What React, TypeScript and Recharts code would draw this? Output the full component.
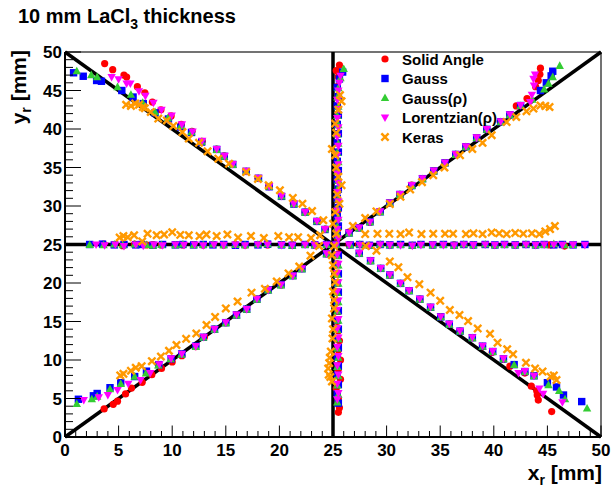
import React from 'react';
import { ScatterChart, Scatter, XAxis, YAxis, ReferenceLine, Legend } from 'recharts';

type P = [number, number];

// ---------- data (x_r, y_r in mm) ----------
const solidAngle: P[] = [
  // upper-left arm
  [3.7,48.5],[4.45,47.7],[5.5,47.0],[5.75,46.75],[6.75,45.5],[7.45,44.7],[8.15,43.5],[8.95,42.5],[9.9,41.7],[10.85,40.6],[11.85,39.7],[12.8,38.4],[14.15,37.4],[14.85,36.5],[15.6,35.4],[16.9,34.5],[18.0,33.6],[19.0,32.5],[20.2,31.3],[21.3,30.3],[22.4,29.2],[23.5,28.0],[24.3,27.0],
  // lower-left arm
  [3.65,3.65],[4.5,4.25],[4.9,4.65],[5.65,5.6],[6.2,6.35],[7.2,7.1],[8.1,8.1],[9.0,8.9],[10.0,9.75],[10.9,10.55],[12.2,11.75],[13.0,12.95],[13.9,14.0],[15.0,14.85],[16.0,15.85],[16.95,16.6],[17.9,17.9],[18.95,19.1],[20.15,19.75],[21.25,20.95],[22.1,21.85],[24.4,23.8],
  // upper-right arm
  [26.5,26.6],[27.45,27.2],[28.45,27.9],[29.4,29.25],[30.3,30.4],[31.25,31.5],[32.35,32.7],[33.35,33.55],[34.4,34.55],[35.45,35.6],[36.45,36.7],[37.4,37.7],[38.4,38.8],[39.35,39.95],[40.6,40.95],[41.5,41.85],[42.1,43.0],[43.1,43.95],[43.9,45.5],[44.15,46.3],[44.3,47.1],[44.35,47.9],
  // lower-right arm
  [27.45,23.85],[28.5,22.9],[29.45,21.9],[30.3,21.0],[31.3,19.95],[32.1,19.0],[33.1,17.9],[34.1,16.85],[35.05,15.6],[35.85,14.65],[36.85,13.75],[38.0,12.9],[38.95,11.75],[39.85,11.0],[40.9,10.1],[41.5,9.2],[42.9,8.3],[43.5,6.6],[44.0,6.0],[44.05,5.45],[44.15,4.8],[45.4,3.3],
  // horizontal scan
  [3.6,25.05],[4.6,25.0],[5.4,24.85],[6.5,25.05],[7.6,24.95],[8.2,25.0],[9.0,24.95],[10.3,25.0],[11.0,24.95],[12.0,25.0],[12.9,24.95],[13.8,25.0],[14.8,24.95],[15.9,25.0],[16.8,24.9],[18.0,25.0],[18.9,24.95],[20.2,25.0],[21.2,24.95],[22.4,25.0],[23.3,24.95],[24.4,25.0],[25.3,25.0],[26.5,24.95],[27.4,25.0],[28.4,24.9],[29.4,25.0],[30.3,24.95],[31.3,25.0],[32.4,24.9],[33.2,25.0],[34.3,24.95],[35.3,25.0],[36.3,24.95],[37.2,25.0],[38.1,24.95],[39.2,25.0],[40.1,24.9],[41.0,25.0],[42.0,24.95],[43.0,25.0],[43.9,24.95],[44.7,25.0],[45.2,24.95],[46.6,24.8],
  // vertical scan
  [25.6,48.3],[25.3,47.6],[25.5,46.8],[25.4,45.5],[25.5,44.3],[25.4,43.0],[25.5,41.8],[25.4,40.7],[25.5,39.4],[25.4,38.2],[25.5,37.0],[25.4,35.7],[25.5,34.5],[25.4,33.3],[25.5,32.0],[25.4,30.8],[25.5,29.5],[25.4,28.3],[25.5,27.1],[25.4,25.8],[25.5,23.8],[25.4,22.5],[25.5,21.3],[25.4,20.0],[25.5,18.8],[25.4,17.5],[25.5,16.3],[25.4,15.0],[25.5,13.8],[25.6,12.5],[25.5,11.3],[25.7,10.0],[25.5,8.8],[25.7,7.5],[25.3,6.3],[25.5,5.0],[25.5,4.4],[25.6,3.8],[25.5,3.2],
];

const gauss: P[] = [
  [0.8,47.3],[1.7,46.85],[2.95,46.3],[3.4,46.2],[5.3,45.0],[6.35,44.15],[7.3,43.3],[8.4,42.1],[9.65,41.3],[10.8,40.25],[11.8,39.55],[12.75,38.3],[14.15,37.35],[14.85,36.45],[15.65,35.4],[16.9,34.5],[18.05,33.6],[19.05,32.5],[20.2,31.25],[21.35,30.25],[22.4,29.2],[23.5,28.0],[24.25,26.95],
  [1.25,4.9],[2.65,5.35],[3.0,5.65],[4.2,6.4],[5.2,7.05],[6.5,7.85],[7.6,8.55],[8.75,9.4],[9.9,10.15],[10.9,10.8],[12.2,11.8],[12.9,12.95],[13.95,14.0],[15.0,14.85],[16.0,15.85],[16.95,16.6],[17.9,17.9],[18.95,19.1],[20.15,19.8],[21.25,20.95],[22.1,21.85],[24.4,23.8],
  [26.5,26.5],[27.45,27.15],[28.45,27.95],[29.4,29.25],[30.3,30.4],[31.25,31.5],[32.35,32.65],[33.35,33.55],[34.4,34.55],[35.45,35.6],[36.45,36.7],[37.4,37.7],[38.4,38.85],[39.35,39.95],[40.65,40.95],[41.5,41.85],[42.5,43.05],[44.35,45.0],[44.9,46.0],[45.35,46.9],[45.5,47.5],
  [27.45,23.85],[28.5,22.9],[29.45,21.9],[30.3,21.05],[31.3,19.95],[32.1,19.0],[33.1,17.9],[34.1,16.85],[35.05,15.6],[35.85,14.65],[36.85,13.75],[38.0,12.9],[38.95,11.8],[39.9,11.1],[40.9,10.15],[41.9,9.4],[42.9,8.5],[43.75,7.95],[45.0,7.05],[45.85,6.5],[46.5,5.45],[48.2,4.6],
  [2.3,25.0],[3.5,25.05],[4.6,24.95],[5.5,25.0],[6.6,24.95],[7.1,25.0],[8.2,24.9],[9.1,25.0],[10.3,24.95],[11.0,25.0],[12.0,24.95],[12.9,25.0],[13.8,24.95],[14.8,25.0],[15.9,24.9],[16.8,25.0],[18.0,24.95],[18.9,25.05],[20.2,24.95],[21.2,24.9],[22.4,25.0],[23.3,24.95],[24.4,25.0],[25.3,25.0],[26.6,24.95],[27.5,25.0],[28.4,24.9],[29.4,25.0],[30.3,24.95],[31.3,25.0],[32.4,24.9],[33.2,25.0],[34.3,24.95],[35.3,25.0],[36.3,24.9],[37.2,25.0],[38.1,24.95],[39.2,25.0],[40.1,24.95],[41.0,25.0],[42.0,24.95],[43.0,25.0],[43.9,24.95],[44.7,25.0],[45.6,24.95],[46.4,25.0],[47.4,24.95],[48.5,25.0],
  [25.9,47.4],[25.6,46.5],[25.4,45.4],[25.5,44.2],[25.4,43.0],[25.5,41.8],[25.4,40.6],[25.5,39.4],[25.4,38.2],[25.5,37.0],[25.4,35.8],[25.5,34.6],[25.4,33.4],[25.5,32.2],[25.4,31.0],[25.5,29.8],[25.4,28.6],[25.5,27.4],[25.4,26.2],[25.5,23.6],[25.4,22.4],[25.5,21.2],[25.4,20.0],[25.5,18.8],[25.4,17.6],[25.5,16.4],[25.4,15.2],[25.5,14.0],[25.4,12.8],[25.5,11.6],[25.4,10.4],[25.5,9.2],[25.4,8.0],[25.5,6.8],[25.4,5.6],[25.5,4.4],
];

const gaussRho: P[] = [
  [1.1,47.5],[2.45,47.0],[3.0,46.75],[4.9,45.45],[6.15,44.45],[7.25,43.4],[8.4,42.2],[9.6,41.4],[10.8,40.4],[11.8,39.6],[12.75,38.35],[14.15,37.3],[14.85,36.4],[15.65,35.35],[16.9,34.45],[18.05,33.55],[19.05,32.5],[20.2,31.25],[21.35,30.25],[22.4,29.15],[23.5,28.0],[24.25,26.95],
  [1.1,4.3],[2.5,4.9],[3.0,5.25],[4.2,6.2],[5.2,6.9],[6.5,7.85],[7.55,8.25],[8.7,9.3],[9.85,10.1],[10.85,10.7],[12.2,11.7],[12.9,12.9],[13.95,13.95],[15.0,14.8],[16.0,15.8],[16.95,16.55],[17.9,17.85],[18.95,19.05],[20.15,19.7],[21.25,20.9],[22.1,21.8],[24.4,23.75],
  [26.5,26.45],[27.45,27.1],[28.45,27.9],[29.4,29.2],[30.3,30.35],[31.25,31.45],[32.35,32.6],[33.35,33.5],[34.4,34.5],[35.45,35.55],[36.45,36.65],[37.4,37.65],[38.4,38.8],[39.35,39.9],[40.65,40.9],[41.5,41.8],[42.5,43.0],[43.6,43.8],[44.7,45.15],[45.1,45.9],[45.5,46.75],[46.15,48.2],
  [27.45,23.8],[28.5,22.85],[29.45,21.85],[30.3,21.0],[31.3,19.9],[32.1,18.95],[33.1,17.85],[34.1,16.8],[35.05,15.55],[35.85,14.6],[36.85,13.7],[38.0,12.85],[38.95,11.75],[39.9,11.05],[40.9,10.1],[41.9,9.35],[42.9,8.45],[43.75,7.9],[45.1,6.75],[46.1,6.0],[46.65,4.9],[48.7,3.7],
  [2.3,24.95],[3.6,24.9],[4.6,25.0],[5.4,24.9],[6.5,25.0],[7.6,24.95],[8.2,24.85],[9.0,24.95],[10.3,24.9],[11.0,25.0],[12.0,24.9],[12.9,24.95],[13.8,25.0],[14.8,24.9],[15.9,24.95],[16.8,24.9],[18.0,25.0],[18.9,25.05],[20.2,24.95],[21.2,24.85],[22.4,24.95],[23.3,24.9],[24.4,24.95],[25.3,24.95],[26.6,24.9],[27.5,25.0],[28.4,24.85],[29.4,25.0],[30.3,24.9],[31.3,24.95],[32.4,24.85],[33.2,24.95],[34.3,24.9],[35.3,24.95],[36.3,24.85],[37.2,25.0],[38.1,24.9],[39.2,25.0],[40.1,24.9],[41.0,24.95],[42.0,24.9],[43.0,25.0],[43.9,24.9],[44.7,24.95],[45.6,25.05],[46.6,24.9],[47.4,24.95],
  [26.0,47.8],[25.7,46.6],[25.5,45.3],[25.4,44.1],[25.5,42.9],[25.4,41.7],[25.5,40.5],[25.4,39.3],[25.5,38.1],[25.4,36.9],[25.5,35.7],[25.4,34.5],[25.5,33.3],[25.4,32.1],[25.5,30.9],[25.4,29.7],[25.5,28.5],[25.4,27.3],[25.5,26.1],[25.4,23.5],[25.5,22.3],[25.4,21.1],[25.5,19.9],[25.4,18.7],[25.5,17.5],[25.4,16.3],[25.5,15.1],[25.4,13.9],[25.5,12.7],[25.4,11.5],[25.5,10.3],[25.4,9.1],[25.5,7.9],[25.4,6.7],[25.5,5.5],[25.4,4.5],
];

const lorentzianRho: P[] = [
  [4.35,46.75],[5.0,46.45],[5.75,45.9],[6.1,45.9],[6.9,44.9],[7.5,44.3],[8.25,43.4],[9.0,42.5],[9.95,41.75],[10.9,40.6],[11.9,39.65],[12.8,38.45],[14.15,37.4],[14.9,36.5],[15.65,35.45],[16.9,34.55],[18.05,33.65],[19.05,32.55],[20.2,31.3],[21.35,30.3],[22.4,29.2],[23.5,28.05],[24.25,27.0],
  [1.75,4.8],[3.15,5.15],[4.0,5.45],[4.9,6.1],[5.9,6.9],[7.05,7.4],[7.95,8.3],[8.8,9.45],[9.9,10.2],[10.9,10.8],[12.2,11.8],[12.95,13.0],[13.95,14.0],[15.0,14.9],[16.0,15.9],[16.95,16.6],[17.9,17.95],[18.95,19.1],[20.15,19.8],[21.25,20.95],[22.1,21.9],[24.4,23.85],
  [26.5,26.55],[27.45,27.2],[28.45,27.95],[29.4,29.3],[30.3,30.45],[31.25,31.55],[32.35,32.7],[33.35,33.6],[34.4,34.6],[35.45,35.65],[36.45,36.75],[37.4,37.75],[38.4,38.9],[39.35,40.0],[40.65,41.0],[41.5,41.9],[42.5,43.1],[43.4,43.5],[43.55,44.45],[43.75,45.65],[43.7,46.5],[43.85,47.05],
  [27.45,23.9],[28.5,22.95],[29.45,21.95],[30.3,21.1],[31.3,20.0],[32.1,19.05],[33.1,17.95],[34.1,16.9],[35.05,15.65],[35.85,14.7],[36.85,13.8],[38.0,12.95],[38.95,11.85],[39.9,11.15],[40.9,10.2],[42.3,8.3],[42.9,8.55],[43.75,7.95],[44.25,6.3],[44.6,5.6],[46.4,4.5],
  [2.9,25.0],[3.7,24.9],[4.7,25.0],[5.5,24.8],[6.6,25.0],[7.3,24.85],[8.3,25.0],[9.1,24.9],[10.3,25.0],[11.1,24.95],[12.1,25.0],[12.9,24.9],[13.9,25.0],[14.8,24.95],[15.9,25.0],[16.8,24.9],[18.0,25.0],[18.9,25.0],[20.2,24.95],[21.2,24.9],[22.4,25.0],[23.3,24.95],[24.4,25.0],[25.3,25.0],[26.5,25.0],[27.5,24.95],[28.4,24.85],[29.4,25.0],[30.3,24.95],[31.3,24.9],[32.4,24.85],[33.2,24.95],[34.3,25.0],[35.3,24.95],[36.3,24.9],[37.2,25.0],[38.1,24.95],[39.2,25.0],[40.1,24.95],[41.0,25.0],[42.0,24.95],[43.0,25.0],[43.9,24.95],[44.7,25.0],[45.6,25.0],[46.4,24.95],[47.4,25.0],[48.5,24.95],
  [25.7,46.9],[25.6,46.0],[25.5,45.0],[25.4,43.8],[25.5,42.6],[25.4,41.4],[25.5,40.2],[25.4,39.0],[25.5,37.8],[25.4,36.6],[25.5,35.4],[25.4,34.2],[25.5,33.0],[25.4,31.8],[25.5,30.6],[25.4,29.4],[25.5,28.2],[25.4,27.0],[25.5,25.8],[25.4,23.7],[25.5,22.5],[25.4,21.3],[25.5,20.1],[25.4,18.9],[25.5,17.7],[25.4,16.5],[25.5,15.3],[25.4,14.1],[25.5,12.9],[25.4,11.7],[25.5,10.5],[25.4,9.3],[25.5,8.1],[25.4,6.9],[25.5,5.7],[25.4,4.9],
];

const keras: P[] = [
  [5.7,43.15],[6.15,43.0],[6.55,43.3],[6.9,43.15],[7.25,42.85],[7.45,42.7],[8.0,42.2],[8.7,41.35],[9.5,41.1],[10.1,40.4],[10.95,39.6],[11.55,38.75],[12.5,38.2],[13.3,37.1],[14.3,36.15],[15.3,35.5],[16.9,34.4],[18.0,33.5],[19.0,32.7],[20.05,32.05],[21.25,31.05],[22.15,30.3],[23.05,29.35],[24.1,28.15],
  [5.15,8.0],[5.45,8.2],[6.15,8.6],[6.6,9.0],[7.15,9.2],[8.1,9.85],[8.95,10.45],[9.7,11.2],[10.4,11.95],[11.3,12.75],[12.25,13.45],[13.2,14.55],[14.0,15.6],[15.0,16.7],[16.1,17.6],[17.4,18.75],[18.65,19.25],[19.75,20.2],[20.85,21.25],[21.85,22.15],[22.9,23.55],[23.7,24.8],
  [26.85,27.4],[28.0,28.45],[29.05,29.3],[30.3,30.25],[31.3,31.2],[32.2,32.15],[33.3,33.1],[34.35,34.0],[35.4,35.0],[36.85,36.6],[38.0,37.4],[38.95,38.2],[39.8,39.2],[41.2,40.9],[42.1,41.55],[43.05,42.3],[43.7,42.65],[44.35,43.05],[44.8,43.0],[45.2,42.85],
  [28.05,24.8],[29.05,24.2],[30.3,22.8],[31.1,22.05],[31.95,20.75],[33.05,19.85],[34.1,18.75],[35.0,17.7],[35.9,16.5],[36.8,15.85],[37.6,15.05],[38.5,14.1],[39.65,13.4],[40.35,12.25],[41.25,11.4],[41.8,10.75],[43.0,9.65],[43.85,8.9],[44.55,8.5],[45.3,7.85],[45.6,8.0],[45.85,7.4],
  [5.1,25.9],[5.45,26.1],[5.85,25.95],[6.45,26.2],[7.2,25.4],[7.7,26.4],[8.55,26.2],[9.25,26.3],[10.0,26.6],[10.75,26.25],[11.55,26.2],[12.55,26.1],[13.2,26.3],[14.15,26.1],[15.15,26.3],[16.15,25.9],[17.35,26.1],[18.55,25.85],[19.9,26.1],[20.9,25.95],[21.75,25.95],[22.95,25.85],[23.8,26.2],
  [28.0,26.35],[29.15,26.4],[30.25,26.4],[31.3,26.35],[32.1,26.55],[33.25,26.35],[34.35,26.4],[35.45,26.4],[36.2,26.4],[37.4,26.35],[38.1,26.45],[38.95,26.35],[39.8,26.55],[40.5,26.45],[41.2,26.35],[42.0,26.5],[42.75,26.4],[43.55,26.45],[44.25,26.35],[44.8,26.7],[45.25,27.0],[45.7,27.4],
  [25.65,44.4],[25.8,43.6],[25.5,42.5],[25.2,40.7],[25.3,39.5],[24.9,37.4],[25.2,36.6],[25.3,35.0],[25.5,33.8],[25.8,32.7],[25.4,31.5],[25.6,30.3],[25.2,29.2],[25.0,27.7],[25.3,26.4],[25.1,24.8],[24.9,23.6],[25.0,22.3],[25.1,21.2],[25.2,20.1],[25.0,18.9],[25.1,17.8],[25.1,16.7],[24.9,15.4],[25.0,14.0],[24.95,12.8],[24.8,11.1],[24.7,10.3],[24.65,9.6],[24.55,8.9],[24.6,8.1],[24.9,7.2],[24.75,7.8],
];

const axisTicks = [0,1,2,3,4,5,6,7,8,9,10,11,12,13,14,15,16,17,18,19,20,21,22,23,24,25,26,27,28,29,30,31,32,33,34,35,36,37,38,39,40,41,42,43,44,45,46,47,48,49,50];
const majorTickLabels = [0,5,10,15,20,25,30,35,40,45,50];

const seriesNames = ['Solid Angle', 'Gauss', 'Gauss(\u03c1)', 'Lorentzian(\u03c1)', 'Keras'];
const seriesColors = ['#ff0000', '#0000ff', '#33cc33', '#ff00ff', '#ff9900'];

const FONT = '"Liberation Sans", Arial, Helvetica, sans-serif';

const toData = (pts: P[]) => pts.map(([x, y]) => ({ x, y }));

// ---------- markers ----------
const drawMarker = (kind: number, cx: number, cy: number, key?: any) => {
  const c = seriesColors[kind];
  switch (kind) {
    case 0:
      return <circle key={key} cx={cx} cy={cy} r={3.6} fill={c} />;
    case 1:
      return <rect key={key} x={cx - 3.7} y={cy - 3.7} width={7.4} height={7.4} fill={c} />;
    case 2:
      return <path key={key} d={`M${cx},${cy - 4.5}L${cx + 4.2},${cy + 3.1}L${cx - 4.2},${cy + 3.1}Z`} fill={c} />;
    case 3:
      return <path key={key} d={`M${cx},${cy + 4.5}L${cx + 4.2},${cy - 3.1}L${cx - 4.2},${cy - 3.1}Z`} fill={c} />;
    default:
      return (
        <path key={key} d={`M${cx - 2.8},${cy - 2.8}L${cx + 2.8},${cy + 2.8}M${cx + 2.8},${cy - 2.8}L${cx - 2.8},${cy + 2.8}`}
          stroke={c} strokeWidth={2.4} strokeLinecap="square" fill="none" />
      );
  }
};

const makeShape = (kind: number) => (props: any) => {
  if (props == null || props.cx == null || props.cy == null) return <g />;
  return drawMarker(kind, props.cx, props.cy);
};

// ---------- ticks (ROOT style, inside the frame) ----------
const XTick = (props: any) => {
  const { x, y, payload } = props;
  const v = payload.value;
  const major = majorTickLabels.includes(v);
  return (
    <g>
      <line x1={x} x2={x} y1={y} y2={y - (major ? 11.5 : 6)} stroke="#000" strokeWidth={1} />
      {major && (
        <text x={x} y={y + 19} textAnchor="middle" fontFamily={FONT} fontWeight="bold" fontSize={17} fill="#000">
          {v}
        </text>
      )}
    </g>
  );
};

const YTick = (props: any) => {
  const { x, y, payload } = props;
  const v = payload.value;
  const major = majorTickLabels.includes(v);
  return (
    <g>
      <line x1={x} x2={x + (major ? 16 : 8)} y1={y} y2={y} stroke="#000" strokeWidth={1} />
      {major && (
        <text x={x - 3} y={y + 6} textAnchor="end" fontFamily={FONT} fontWeight="bold" fontSize={17} fill="#000">
          {v}
        </text>
      )}
    </g>
  );
};

const renderLegend = () => (
  <svg width={170} height={100} style={{ display: 'block' }}>
    {seriesNames.map((name, i) => {
      const cy = 12 + i * 19.5;
      return (
        <g key={name}>
          {drawMarker(i, 15, cy)}
          <text x={32} y={cy + 5.5} fontFamily={FONT} fontWeight="bold" fontSize={15} fill="#000">
            {name}
          </text>
        </g>
      );
    })}
  </svg>
);

const seriesData = [solidAngle, gauss, gaussRho, lorentzianRho, keras];

export default function App() {
  return (
    <div style={{ position: 'absolute', left: 0, top: 0, width: 612, height: 489, background: '#fff' }}>
      <ScatterChart width={612} height={489} margin={{ top: 52, right: 11, bottom: 51, left: 64 }}>
        <XAxis
          type="number"
          dataKey="x"
          domain={[0, 50]}
          ticks={axisTicks}
          interval={0}
          tickSize={0}
          tickMargin={0}
          height={1}
          tickLine={false}
          tick={<XTick />}
          axisLine={{ stroke: '#000', strokeWidth: 2 }}
          allowDataOverflow
        />
        <YAxis
          type="number"
          dataKey="y"
          domain={[0, 50]}
          ticks={axisTicks}
          interval={0}
          tickSize={0}
          tickMargin={0}
          width={1}
          tickLine={false}
          tick={<YTick />}
          axisLine={{ stroke: '#000', strokeWidth: 2 }}
          allowDataOverflow
        />
        <ReferenceLine y={50} stroke="#444" strokeWidth={1.5} />
        <ReferenceLine x={50} stroke="#444" strokeWidth={1.5} />
        <ReferenceLine segment={[{ x: 0, y: 0 }, { x: 50, y: 50 }]} stroke="#000" strokeWidth={3.5} />
        <ReferenceLine segment={[{ x: 0, y: 50 }, { x: 50, y: 0 }]} stroke="#000" strokeWidth={3.5} />
        <ReferenceLine x={25} stroke="#000" strokeWidth={3.5} />
        <ReferenceLine y={25} stroke="#000" strokeWidth={3.5} />
        {seriesData.map((pts, i) => (
          <Scatter
            key={seriesNames[i]}
            name={seriesNames[i]}
            data={toData(pts)}
            fill={seriesColors[i]}
            shape={makeShape(i)}
            isAnimationActive={false}
          />
        ))}
        <Legend
          content={renderLegend}
          layout="vertical"
          align="center"
          verticalAlign="middle"
          wrapperStyle={{ left: 370, top: 47, width: 170, height: 100 }}
        />
      </ScatterChart>
      <svg width={612} height={489} style={{ position: 'absolute', left: 0, top: 0, pointerEvents: 'none' }}>
        <text x={18} y={23} fontFamily={FONT} fontWeight="bold" fontSize={20} fill="#000">
          10 mm LaCl<tspan fontSize={14} dy={6}>3</tspan><tspan fontSize={20} dy={-6}> thickness</tspan>
        </text>
        <text x={602} y={480} textAnchor="end" fontFamily={FONT} fontWeight="bold" fontSize={21} fill="#000">
          x<tspan fontSize={14} dy={5}>r</tspan><tspan fontSize={21} dy={-5}> [mm]</tspan>
        </text>
        <text x={-50} y={26} transform="rotate(-90)" textAnchor="end" fontFamily={FONT} fontWeight="bold" fontSize={21} fill="#000">
          y<tspan fontSize={14} dy={5}>r</tspan><tspan fontSize={21} dy={-5}> [mm]</tspan>
        </text>
      </svg>
    </div>
  );
}
